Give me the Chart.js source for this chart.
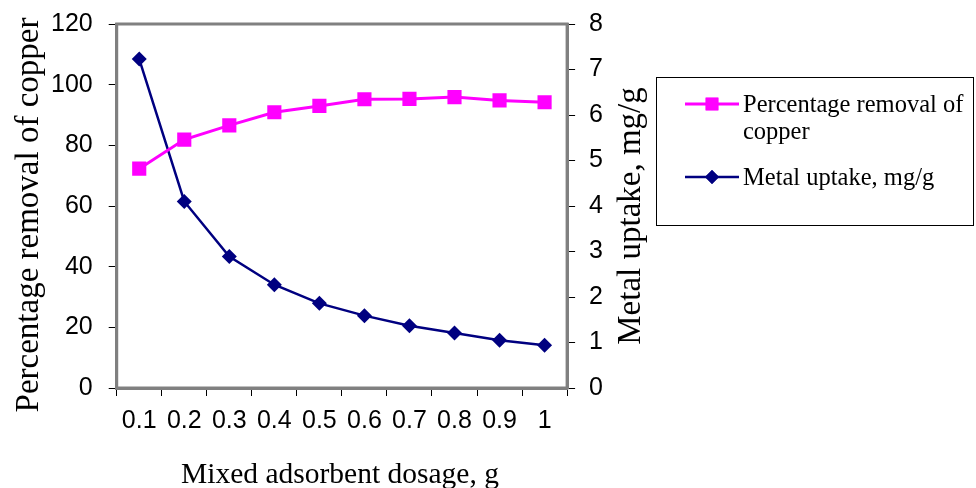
<!DOCTYPE html>
<html>
<head>
<meta charset="utf-8">
<script src="https://cdn.jsdelivr.net/npm/chart.js@4.4.1/dist/chart.umd.min.js"></script>
<style>
  html, body { margin: 0; padding: 0; background: #fff; }
  #wrap { position: relative; width: 976px; height: 488px; }
  #legend {
    position: absolute; left: 656px; top: 77px; width: 318px; height: 149px;
    border: 1px solid #000; box-sizing: border-box;
    font-family: "Liberation Serif", "Times New Roman", serif; font-size: 24.5px; color: #000;
  }
  .item { position: absolute; left: 28px; display: flex; align-items: flex-start; }
  .item canvas { flex: none; margin-top: 2px; }
  .item span { margin-left: 4px; line-height: 27px; }
</style>
</head>
<body>
<div id="wrap">
  <canvas id="chart" width="976" height="488"></canvas>
  <div id="legend">
    <div class="item" style="top: 12px;"><canvas id="lg1" width="54" height="24"></canvas><span>Percentage removal of<br>copper</span></div>
    <div class="item" style="top: 85px;"><canvas id="lg2" width="54" height="24"></canvas><span>Metal uptake, mg/g</span></div>
  </div>
</div>
<script>
let colors = {
    'pink': '#ff00ff',
    'navy': '#000080',
    'axis': '#808080',
    'black': '#000',
}

const dosage = ['0.1', '0.2', '0.3', '0.4', '0.5', '0.6', '0.7', '0.8', '0.9', '1'];
const removal = [72.3, 81.9, 86.6, 90.9, 93.0, 95.2, 95.3, 95.9, 94.8, 94.2];
const uptake = [7.23, 4.10, 2.89, 2.27, 1.86, 1.59, 1.37, 1.21, 1.05, 0.94];

const sansFont = { family: "'Liberation Sans', Arial, sans-serif", size: 25 };
const serif = "'Liberation Serif', 'Times New Roman', serif";

// gray frame around the plot area + axis titles (right one reads bottom-to-top)
const frame = {
    id: 'frame',
    afterDraw(chart) {
        const a = chart.chartArea;
        const ctx = chart.ctx;
        ctx.save();
        ctx.strokeStyle = colors.axis;
        ctx.lineWidth = 3;
        ctx.strokeRect(a.left, a.top, a.right - a.left, a.bottom - a.top);

        ctx.fillStyle = colors.black;
        ctx.textAlign = 'center';
        ctx.textBaseline = 'middle';
        ctx.font = `33px ${serif}`;
        ctx.save();
        ctx.translate(29, 215);
        ctx.rotate(-Math.PI / 2);
        ctx.fillText('Percentage removal of copper', 0, 0);
        ctx.restore();
        ctx.save();
        ctx.translate(631, 216);
        ctx.rotate(-Math.PI / 2);
        ctx.fillText('Metal uptake, mg/g', 0, 0);
        ctx.restore();
        ctx.font = `29.5px ${serif}`;
        ctx.textBaseline = 'alphabetic';
        ctx.fillText('Mixed adsorbent dosage, g', 340, 483);
        ctx.restore();
    }
}

// let the top tick labels hang into the layout padding
const noTopPad = (scale) => { scale.paddingTop = 0; };

new Chart(document.getElementById('chart'), {
    type: 'line',
    data: {
        labels: dosage,
        datasets: [{
            label: 'Percentage removal of copper',
            data: removal,
            yAxisID: 'y',
            borderColor: colors.pink,
            backgroundColor: colors.pink,
            borderWidth: 3,
            pointStyle: 'rect',
            pointRadius: 10,
            pointBorderWidth: 0,
        },
        {
            label: 'Metal uptake, mg/g',
            data: uptake,
            yAxisID: 'y1',
            borderColor: colors.navy,
            backgroundColor: colors.navy,
            borderWidth: 2.5,
            pointStyle: 'rectRot',
            pointRadius: 7.5,
            pointBorderWidth: 0,
        }]
    },
    options: {
        responsive: false,
        animation: false,
        layout: {
            padding: { top: 24, right: 359, left: 35, bottom: 42 }
        },
        scales: {
            x: {
                offset: true,
                grid: { offset: true, drawOnChartArea: false, color: colors.black, tickLength: 8, lineWidth: 1 },
                border: { color: colors.axis, width: 3 },
                ticks: { color: colors.black, font: sansFont, padding: 10, maxRotation: 0 }
            },
            y: {
                position: 'left',
                min: 0,
                max: 120,
                afterFit: noTopPad,
                ticks: { stepSize: 20, color: colors.black, font: sansFont, padding: 16 },
                grid: { drawOnChartArea: false, color: colors.black, tickLength: 8 },
                border: { color: colors.axis, width: 3 }
            },
            y1: {
                position: 'right',
                min: 0,
                max: 8,
                afterFit: noTopPad,
                ticks: { stepSize: 1, color: colors.black, font: sansFont, padding: 14 },
                grid: { drawOnChartArea: false, color: colors.black, tickLength: 8 },
                border: { color: colors.axis, width: 3 }
            }
        },
        plugins: {
            legend: { display: false },
            tooltip: { enabled: false }
        }
    },
    plugins: [frame]
});

// legend samples
function sample(id, color, style, radius, lw) {
    const c = document.getElementById(id).getContext('2d');
    c.strokeStyle = color;
    c.lineWidth = lw;
    c.beginPath();
    c.moveTo(0, 12);
    c.lineTo(54, 12);
    c.stroke();
    c.fillStyle = color;
    Chart.helpers.drawPoint(c, { pointStyle: style, radius: radius, borderWidth: 0 }, 27, 12);
    c.fill();
}
sample('lg1', colors.pink, 'rect', 9, 3);
sample('lg2', colors.navy, 'rectRot', 7, 2.5);
</script>
</body>
</html>
